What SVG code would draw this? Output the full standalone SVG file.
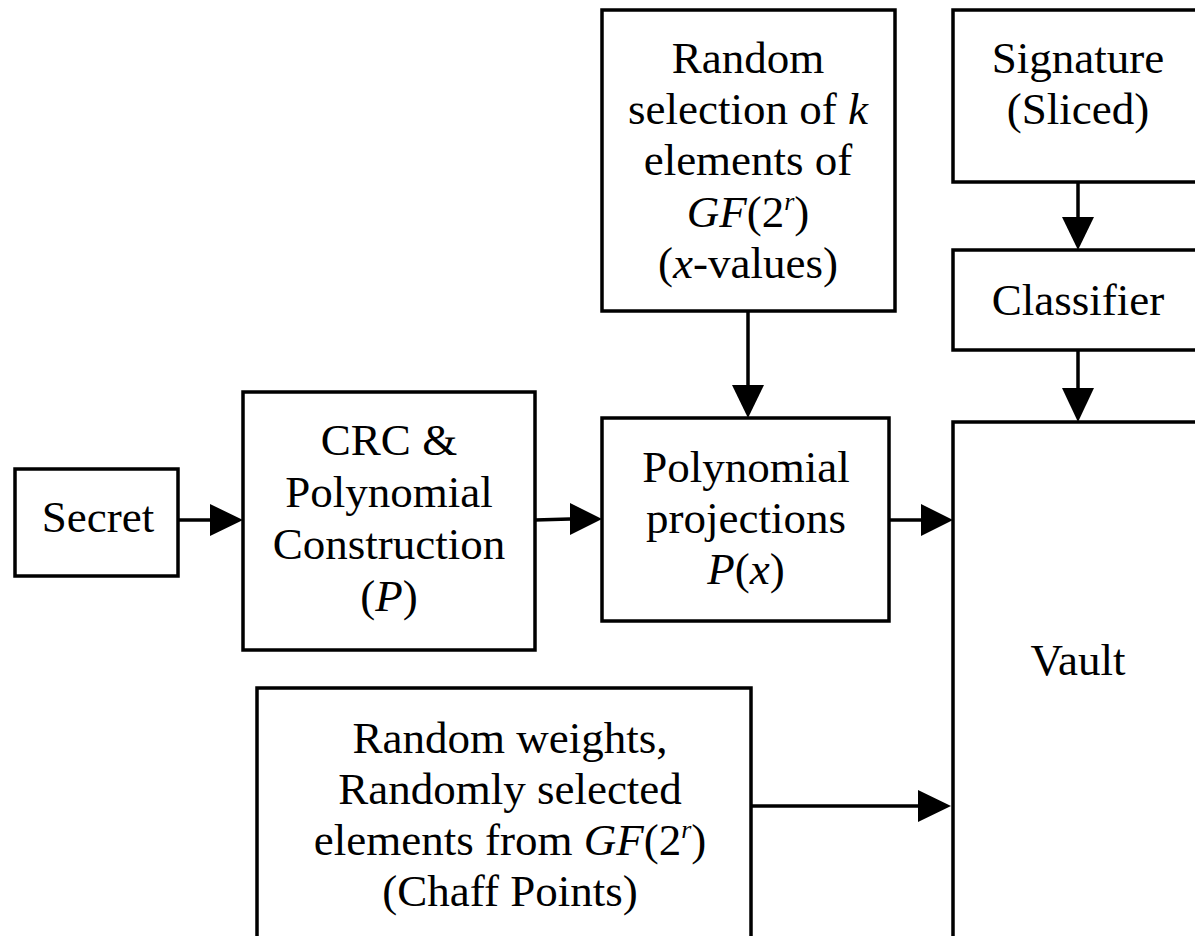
<svg xmlns="http://www.w3.org/2000/svg" width="1195" height="936" viewBox="0 0 1195 936">
<style>
.box{fill:#fff;stroke:#000;stroke-width:3.5}
.t{font-family:"Liberation Serif","Times New Roman",serif;font-size:45px;fill:#000;text-anchor:middle}
.i{font-style:italic}
.sup{font-size:26px;font-style:italic}
.c{stroke:#000;stroke-width:3.5;fill:none}
</style>
<defs>
<marker id="ah" markerWidth="10" markerHeight="10" refX="10" refY="5" orient="auto" markerUnits="userSpaceOnUse" viewBox="0 0 10 10">
<path d="M0,0 L10,5 L0,10 Z" fill="#000"/>
</marker>
</defs>
<g id="connectors">
<line class="c" x1="178" y1="520" x2="210" y2="520"/><path d="M210,504 L243,520 L210,536 Z"/>
<line class="c" x1="535" y1="520" x2="570" y2="519"/><path d="M570,503 L602,519 L570,535 Z"/>
<line class="c" x1="889" y1="520" x2="921" y2="520"/><path d="M921,504 L953,520 L921,536 Z"/>
<line class="c" x1="751" y1="806" x2="918" y2="806"/><path d="M918,790 L951,806 L918,822 Z"/>
<line class="c" x1="748" y1="311" x2="748" y2="385"/><path d="M732,385 L748,418 L764,385 Z"/>
<line class="c" x1="1078" y1="182" x2="1078" y2="217"/><path d="M1062,217 L1078,250 L1094,217 Z"/>
<line class="c" x1="1078" y1="350" x2="1078" y2="388"/><path d="M1062,388 L1078,422 L1094,388 Z"/>
</g>
<g id="secret">
<rect class="box" x="15" y="469" width="163" height="107"/>
<text class="t" x="98" y="532">Secret</text>
</g>
<g id="crc">
<rect class="box" x="243" y="392" width="292" height="258"/>
<text class="t" x="389" y="455">CRC &amp;</text>
<text class="t" x="389" y="507">Polynomial</text>
<text class="t" x="389" y="559">Construction</text>
<text class="t" x="389" y="611">(<tspan class="i">P</tspan>)</text>
</g>
<g id="projections">
<rect class="box" x="602" y="418" width="287" height="203"/>
<text class="t" x="746" y="482">Polynomial</text>
<text class="t" x="746" y="533">projections</text>
<text class="t" x="746" y="584"><tspan class="i">P</tspan>(<tspan class="i">x</tspan>)</text>
</g>
<g id="random-selection">
<rect class="box" x="602" y="10" width="293" height="301"/>
<text class="t" x="748" y="73">Random</text>
<text class="t" x="748" y="124">selection of <tspan class="i">k</tspan></text>
<text class="t" x="748" y="175">elements of</text>
<text class="t" x="748" y="227"><tspan class="i">GF</tspan>(2<tspan class="sup" dy="-17">r</tspan><tspan dy="17">)</tspan></text>
<text class="t" x="748" y="278">(<tspan class="i">x</tspan>-values)</text>
</g>
<g id="signature">
<rect class="box" x="953" y="10" width="260" height="172"/>
<text class="t" x="1078" y="73">Signature</text>
<text class="t" x="1078" y="124">(Sliced)</text>
</g>
<g id="classifier">
<rect class="box" x="953" y="250" width="260" height="100"/>
<text class="t" x="1078" y="315">Classifier</text>
</g>
<g id="vault">
<rect class="box" x="953" y="422" width="260" height="540"/>
<text class="t" x="1078" y="675">Vault</text>
</g>
<g id="chaff">
<rect class="box" x="257" y="688" width="494" height="270"/>
<text class="t" x="510" y="753">Random weights,</text>
<text class="t" x="510" y="804">Randomly selected</text>
<text class="t" x="510" y="855">elements from <tspan class="i">GF</tspan>(2<tspan class="sup" dy="-17">r</tspan><tspan dy="17">)</tspan></text>
<text class="t" x="510" y="906">(Chaff Points)</text>
</g>
</svg>
